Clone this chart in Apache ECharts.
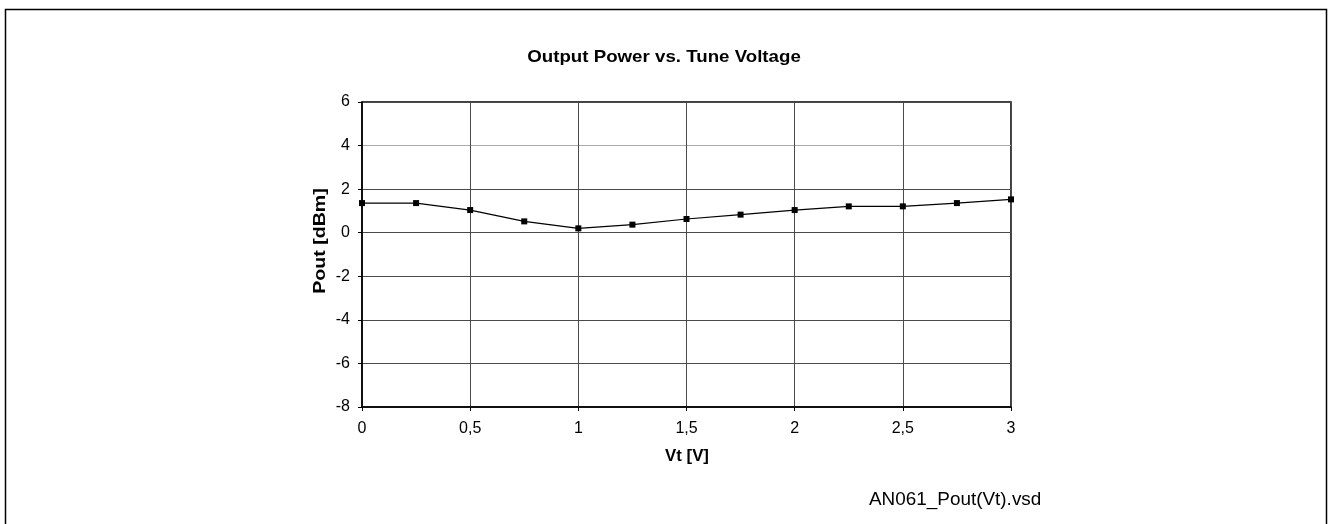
<!DOCTYPE html>
<html><head><meta charset="utf-8">
<script src="https://cdn.jsdelivr.net/npm/echarts@6/dist/echarts.min.js"></script>
<style>html,body{margin:0;padding:0;background:#fff}#c{width:1329px;height:524px}</style>
</head><body><div id="c"></div>
<script>
const vt = [0, 0.25, 0.5, 0.75, 1, 1.25, 1.5, 1.75, 2, 2.25, 2.5, 2.75, 3];
const pout = [1.36, 1.36, 1.04, 0.52, 0.2, 0.37, 0.63, 0.83, 1.04, 1.21, 1.21, 1.36, 1.53];
const title = 'Output Power vs. Tune Voltage';
const xName = 'Vt [V]';
const yName = 'Pout [dBm]';
const footer = 'AN061_Pout(Vt).vsd';

const ch = echarts.init(document.getElementById('c'), null, {renderer: 'canvas'});
const font = 'Arial, "Liberation Sans", sans-serif';
ch.setOption({
  animation: false,
  backgroundColor: '#fff',
  graphic: [
    {type: 'rect', shape: {x: 5.5, y: 9.5, width: 1321, height: 530}, style: {fill: null, stroke: '#000', lineWidth: 1.5}},
    {type: 'text', x: 664, y: 57, scaleX: 1.1, style: {text: title, font: 'bold 17px ' + font, fill: '#000', align: 'center', verticalAlign: 'middle'}},
    {type: 'text', x: 320, y: 241, rotation: Math.PI / 2, scaleX: 1.15, style: {text: yName, font: 'bold 17px ' + font, fill: '#000', align: 'center', verticalAlign: 'middle'}},
    {type: 'text', x: 687, y: 457, scaleX: 1.05, style: {text: xName, font: 'bold 16px ' + font, fill: '#000', align: 'center', verticalAlign: 'middle'}},
    {type: 'text', x: 869, y: 500, scaleX: 1.05, style: {text: footer, font: '18px ' + font, fill: '#000', align: 'left', verticalAlign: 'middle'}}
  ],
  grid: {left: 362, right: 318, top: 102, bottom: 117, show: true, borderColor: '#000', borderWidth: 1.5},
  xAxis: {type: 'value', min: 0, max: 3, interval: 0.5,
    axisLine: {onZero: false, lineStyle: {color: '#000', width: 1.5}},
    axisTick: {length: 4, lineStyle: {color: '#000'}},
    axisLabel: {fontFamily: font, fontSize: 16, color: '#000', margin: 14,
      formatter: v => String(v).replace('.', ',')},
    splitLine: {show: true, lineStyle: {color: '#4a4a4a', width: 1}}},
  yAxis: {type: 'value', min: -8, max: 6, interval: 2,
    axisLine: {onZero: false, lineStyle: {color: '#000', width: 1.5}},
    axisTick: {length: 4, lineStyle: {color: '#000'}},
    axisLabel: {fontFamily: font, fontSize: 16, color: '#000', margin: 12},
    splitLine: {show: true, lineStyle: {color: ['#4a4a4a','#4a4a4a','#4a4a4a','#4a4a4a','#4a4a4a','#4a4a4a','#aaa','#4a4a4a'], width: 1}}},
  series: [{type: 'line', data: vt.map((x, i) => [x, pout[i]]),
    symbol: 'rect', symbolSize: 6, lineStyle: {color: '#000', width: 1.2},
    itemStyle: {color: '#000'}}]
});
</script></body></html>
